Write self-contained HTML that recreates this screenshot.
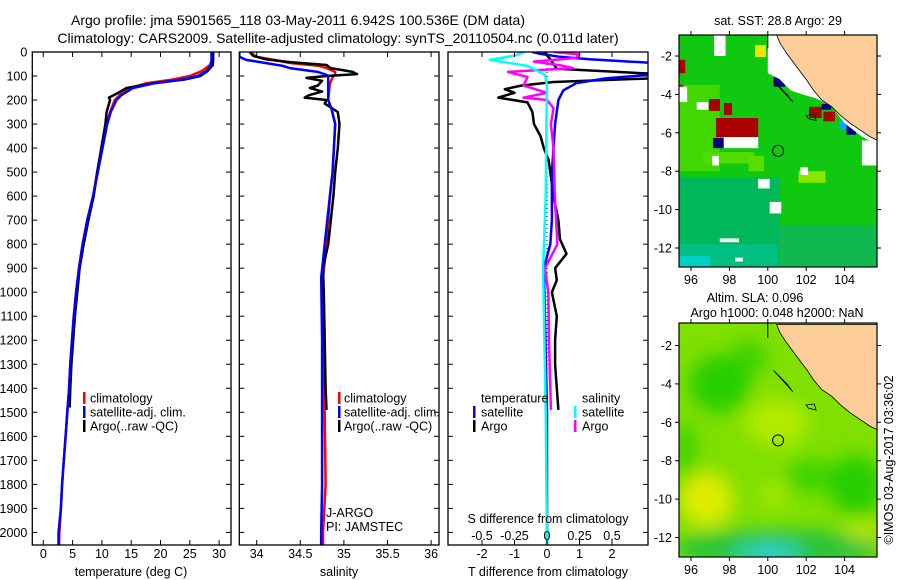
<!DOCTYPE html>
<html><head><meta charset="utf-8"><style>
body{margin:0;background:#fff}
svg{display:block;font-family:"Liberation Sans",sans-serif}
</style></head><body>
<svg id="fig" width="900" height="580" viewBox="0 0 900 580" xmlns="http://www.w3.org/2000/svg">
<defs><filter id="blur" x="-20%" y="-20%" width="140%" height="140%"><feGaussianBlur stdDeviation="9"/></filter></defs>
<text x="298" y="25" font-size="14" text-anchor="middle">Argo profile: jma 5901565_118 03-May-2011 6.942S 100.536E (DM data)</text>
<text x="338" y="43" font-size="14" text-anchor="middle">Climatology: CARS2009. Satellite-adjusted climatology: synTS_20110504.nc (0.011d later)</text>
<g id="g"></g>
</svg>
<script>
// ---- profile data (depth in m) ----
const tDepth = [0,30,55,80,100,115,130,150,180,200,250,300,400,500,600,700,800,900,1000,1100,1200,1300,1400,1500,1600,1700,1800,1900,2000,2054];
const tClim  = [28.9,28.9,28.4,27,25,22,17.6,15.0,13,12.2,11.4,10.8,10,9.2,8.5,7.5,6.7,6.1,5.6,5.2,4.9,4.6,4.4,4.1,3.8,3.5,3.2,3.0,2.75,2.7];
const tSat   = [28.7,28.7,28.6,27.8,26.4,23.5,19,15.3,13.3,12.5,11.5,10.9,10.1,9.3,8.5,7.5,6.7,6.1,5.6,5.2,4.9,4.6,4.4,4.1,3.8,3.5,3.2,3.0,2.6,2.6];
const aDepth = [0,30,55,80,100,115,130,150,170,180,190,200,250,300,400,500,600,700,800,900,1000,1100,1200,1300,1400,1480];
const tArgo  = [29.0,29.0,28.9,28.0,26.8,24,18.8,14.2,12.8,12,11.2,11.4,10.8,10.6,9.9,9.2,8.6,7.7,6.9,6.2,5.8,5.4,5.1,4.8,4.6,4.5];
const sDepth = [0,20,33,46,58,67,83,95,100,130,200,240,300,500,600,800,940,1200,1500,1800,2000,2054];
const sClim  = [33.92,34.0,34.2,34.38,34.72,34.8,34.9,34.9,34.88,34.84,34.82,34.86,34.9,34.87,34.84,34.8,34.76,34.77,34.78,34.79,34.76,34.76];
const sSat   = [33.8,33.8,33.88,34.1,34.3,34.38,34.7,34.8,34.82,34.82,34.82,34.86,34.9,34.87,34.84,34.78,34.74,34.75,34.75,34.75,34.74,34.74];
const asDepth= [0,16,30,42,54,67,83,92,100,108,120,140,150,165,180,190,200,215,250,300,400,500,600,800,900,1000,1200,1400,1490];
const sArgo  = [33.92,33.96,34.1,34.38,34.8,34.85,35.1,35.15,34.8,34.57,34.75,34.7,34.61,34.75,34.6,34.55,34.8,34.78,34.93,34.95,34.93,34.9,34.88,34.82,34.76,34.77,34.78,34.79,34.8];
const dtDepth= [0,8,20,30,45,60,80,95,110,130,160,200,300,500,700,800,900,1000,1200,1500,2054];
const dtSat  = [-0.45,-0.2,0.4,1.3,3.3,3.3,3.3,3.3,1.8,0.9,0.5,0.35,0.25,0.15,0.15,0.1,-0.1,-0.08,-0.05,0,0];
const dtaDepth=[0,30,70,90,95,110,125,140,155,170,190,210,250,300,350,400,450,500,600,700,780,840,900,950,1000,1100,1200,1300,1400,1490];
const dtArgo = [-0.1,0.1,0.3,3.3,3.3,3.3,0.2,-0.8,-1.3,-1.0,-1.5,-0.6,-0.45,-0.4,-0.2,-0.1,0.05,0.1,0.2,0.35,0.4,0.6,0.25,0.3,0.15,0.3,0.25,0.25,0.3,0.35];
const dsDepth= [0,15,33,58,95,140,300,600,900,1200,1500,2054];
const dsSat  = [-0.17,-0.25,-0.44,-0.15,-0.015,0,-0.005,-0.01,-0.03,-0.02,-0.01,0];
const dsaDepth=[0,10,25,40,55,67,83,104,140,170,190,200,233,300,400,600,800,900,1000,1200,1400,1490];
const dsArgo = [0.05,0.25,0.22,-0.1,0.1,0.2,-0.3,-0.15,-0.18,0,-0.18,0,0.05,0.03,0.05,0.06,0.08,-0.015,0.01,0.015,0.025,0.03];
const depthTicks = [0,100,200,300,400,500,600,700,800,900,1000,1100,1200,1300,1400,1500,1600,1700,1800,1900,2000];
const tTicks = [0,5,10,15,20,25,30];
const sTicks = [34,34.5,35,35.5,36];
const dtTicks = [-2,-1,0,1,2];
const dsTicks = [-0.5,-0.25,0,0.25,0.5];
// ---- map data ----
const coastLon = [100.46,100.64,100.98,101.5,102.02,102.37,102.8,103.33,103.76,104.28,104.8,105.32,105.69,105.69];
const coastLat = [-0.906,-1.34,-1.86,-2.56,-3.25,-3.77,-4.29,-4.64,-5.07,-5.5,-5.85,-6.2,-6.38,-0.906];
const mapLonTicks = [96,98,100,102,104];
const mapLatTicks = [-2,-4,-6,-8,-10,-12];
// SST patches: [lon0, lon1, latTop, latBottom, colour]
const sstPatches = [
 [95.37,105.7,-0.9,-13,'#10c810'],
 [95.37,100.6,-8.3,-13,'#00b85a'],
 [100.6,105.7,-10.8,-13,'#10b850'],
 [95.37,100.5,-11.8,-13,'#00bf80'],
 [95.37,97,-12.4,-13,'#00d0c0'],
 [95.37,97.5,-3.5,-8,'#40d800'],
 [96.6,99.3,-7.0,-7.6,'#50dc00'],
 [101.6,103,-8.0,-8.6,'#88e800'],
 [99.0,99.8,-7.2,-8.0,'#5ade00'],
 [97.2,97.8,-0.9,-2.0,'#ffffff'],
 [99.33,99.9,-1.43,-2.05,'#e8e800'],
 [95.37,95.7,-2.2,-2.9,'#aa0000'],
 [95.37,95.6,-3.5,-4.2,'#aa0000'],
 [95.4,95.8,-3.6,-4.4,'#ffffff'],
 [96.3,96.9,-4.4,-4.8,'#ffffff'],
 [96.94,97.51,-4.24,-4.86,'#aa0000'],
 [97.72,98.14,-4.45,-5.07,'#aa0000'],
 [97.3,99.5,-5.23,-6.22,'#aa0000'],
 [97.7,99.5,-6.22,-6.8,'#ffffff'],
 [97.15,97.7,-6.27,-6.8,'#000080'],
 [97.1,97.45,-7.2,-7.7,'#ffffff'],
 [99.5,100.1,-8.4,-8.9,'#ffffff'],
 [100.1,100.7,-9.6,-10.2,'#ffffff'],
 [102.15,102.8,-4.65,-5.23,'#aa0000'],
 [102.9,103.5,-4.9,-5.4,'#aa0000'],
 [102.8,103.3,-4.5,-4.8,'#000080'],
 [100.3,100.9,-3.1,-3.6,'#000080'],
 [104.1,104.6,-5.5,-6.1,'#000080'],
 [103.7,104.1,-5.4,-5.8,'#00aaff'],
 [101.7,102.1,-7.8,-8.2,'#ffffff'],
 [97.5,98.5,-11.5,-11.7,'#ffffff'],
 [98.3,98.7,-12.5,-12.7,'#ffffff'],
 [104.9,105.7,-6.4,-7.7,'#ffffff']
];
// no-data strip along the coast
const gapLon = [100.0,100.46,100.64,100.98,101.5,102.02,102.37,102.8,103.33,103.76,104.28,104.8,105.32,105.69,105.69,104.9,104.0,103.3,102.5,101.8,101.2,100.6,100.0];
const gapLat = [-0.906,-0.906,-1.34,-1.86,-2.56,-3.25,-3.77,-4.29,-4.64,-5.07,-5.5,-5.85,-6.2,-6.38,-6.6,-6.2,-5.5,-4.6,-4.2,-4.0,-3.8,-3.2,-2.9];
// SLA blobs: [lon, lat, rx(deg), ry(deg), colour, opacity]
const slaBlobs = [
 [97.5,-4.0,1.6,1.5,'#20cc00',0.9],
 [99.0,-2.6,1.0,0.9,'#30d000',0.8],
 [95.7,-7.5,0.6,1.6,'#30d000',0.8],
 [102.3,-8.8,1.3,0.9,'#30d000',0.8],
 [104.6,-9.3,1.4,1.6,'#20cc00',0.9],
 [100.5,-6.0,1.6,1.2,'#c8f000',0.7],
 [96.8,-10.0,1.4,1.4,'#e8ee00',0.9],
 [100.3,-9.8,0.6,0.6,'#c8f000',0.6],
 [104.8,-12.0,1.0,0.7,'#d8f000',0.8],
 [100.5,-12.6,5.5,1.0,'#20c040',0.9],
 [100.0,-12.8,1.9,0.7,'#30d0b0',0.95],
 [100.2,-12.9,0.9,0.35,'#30c8e0',0.95]
];

const NS='http://www.w3.org/2000/svg';
const G=document.getElementById('g');
function el(tag,attrs,parent){const e=document.createElementNS(NS,tag);for(const k in attrs)e.setAttribute(k,attrs[k]);(parent||G).appendChild(e);return e;}
const Y0=52,Y1=545;
const yDepth=d=>Y0+d*0.2402;
const xT=v=>43.3+v*5.86;
const xS=v=>256.7+(v-34)*87.2;
const xDT=v=>547+v*32.5;
const xDS=v=>547+v*130;

function line(xs,ds,xf,color,name,parent,x0,x1){
  let p='';
  for(let i=0;i<xs.length;i++){let x=Math.max(x0,Math.min(x1,xf(xs[i])));p+=(i?'L':'M')+x.toFixed(1)+','+yDepth(ds[i]).toFixed(1);}
  const e=el('path',{d:p,fill:'none',stroke:color,'stroke-width':2.5,'stroke-linejoin':'round'},parent);
  
  
}
function panel(x0,x1,name){
  const g=el('g',{});
  
  
  const cp=el('clipPath',{id:'c'+name},g);el('rect',{x:x0,y:Y0,width:x1-x0,height:Y1-Y0},cp);
  const inner=el('g',{'clip-path':'url(#c'+name+')'},g);
  return {g,inner};
}
function frame(g,x0,x1){el('rect',{x:x0,y:Y0,width:x1-x0,height:Y1-Y0,fill:'none',stroke:'#000','stroke-width':1.3},g);}
function depthTickMarks(g,x0,x1,labels){
  depthTicks.forEach(d=>{const y=yDepth(d);
    el('line',{x1:x0,y1:y,x2:x0+5,y2:y,stroke:'#000'},g);el('line',{x1:x1-5,y1:y,x2:x1,y2:y,stroke:'#000'},g);
    if(labels){const t=el('text',{x:x0-5,y:y+4.5,'font-size':12.5,'text-anchor':'end'},g);t.textContent=d;
      
      }
  });
}
function xTicks(g,ticks,xf,lblY,fmt){
  ticks.forEach(v=>{const x=xf(v);
    el('line',{x1:x,y1:Y0,x2:x,y2:Y0+5,stroke:'#000'},g);el('line',{x1:x,y1:Y1-5,x2:x,y2:Y1,stroke:'#000'},g);
    const t=el('text',{x:x,y:lblY,'font-size':12.5,'text-anchor':'middle'},g);t.textContent=fmt?fmt(v):v;
    
    
  });
}
function txt(g,x,y,s,size,name,anchor){const t=el('text',{x:x,y:y,'font-size':size||12.5,'text-anchor':anchor||'start'},g);t.textContent=s;
  
  
  return t;}
function legBar(g,x,y,c){el('rect',{x:x,y:y-6,width:2.5,height:12,fill:c},g);}

// Panel 1 temperature
let P=panel(32.3,231,'temperature-panel');
line(tClim,tDepth,xT,'#ff0000','temp-climatology-line',P.inner,30,233);
line(tArgo,aDepth,xT,'#000000','temp-argo-line',P.inner,30,233);
line(tSat,tDepth,xT,'#0000ff','temp-satellite-line',P.inner,30,233);
frame(P.g,32.3,231);depthTickMarks(P.g,32.3,231,true);xTicks(P.g,tTicks,xT,558);
txt(P.g,131,576,'temperature (deg C)',12.5,'temperature-axis-title','middle');
[['#ff0000','climatology'],['#0000ff','satellite-adj. clim.'],['#000','Argo(..raw -QC)']].forEach((l,i)=>{legBar(P.g,83,398+i*14,l[0]);txt(P.g,90,402.5+i*14,l[1],12.5,'legend-entry');});

// Panel 2 salinity
P=panel(239.3,439,'salinity-panel');
line(sClim,sDepth,xS,'#ff0000','sal-climatology-line',P.inner,237,441);
line(sArgo,asDepth,xS,'#000000','sal-argo-line',P.inner,237,441);
line(sSat,sDepth,xS,'#0000ff','sal-satellite-line',P.inner,237,441);
frame(P.g,239.3,439);depthTickMarks(P.g,239.3,439,false);xTicks(P.g,sTicks,xS,558);
txt(P.g,339,576,'salinity',12.5,'salinity-axis-title','middle');
[['#ff0000','climatology'],['#0000ff','satellite-adj. clim.'],['#000','Argo(..raw -QC)']].forEach((l,i)=>{legBar(P.g,338,398+i*14,l[0]);txt(P.g,344,402.5+i*14,l[1],12.5,'legend-entry');});
txt(P.g,326,517,'J-ARGO',12.5,'float-program-label');
txt(P.g,326,531,'PI: JAMSTEC',12.5,'float-pi-label');

// Panel 3 differences
P=panel(448,648,'difference-panel');
el('line',{x1:547,y1:Y0,x2:547,y2:Y1,stroke:'#000','stroke-dasharray':'1,3'},P.inner);
line(dtArgo,dtaDepth,xDT,'#000000','tdiff-argo-line',P.inner,446,650);
line(dtSat,dtDepth,xDT,'#0000ff','tdiff-satellite-line',P.inner,446,650);
line(dsArgo,dsaDepth,xDS,'#ff00ff','sdiff-argo-line',P.inner,446,650);
line(dsSat,dsDepth,xDS,'#00ffff','sdiff-satellite-line',P.inner,446,650);
frame(P.g,448,648);depthTickMarks(P.g,448,648,false);
dtTicks.forEach(v=>{const x=xDT(v);el('line',{x1:x,y1:Y0,x2:x,y2:Y0+5,stroke:'#000'},P.g);
  txt(P.g,x,558,v,12.5,'tdiff-tick-label','middle');});
dsTicks.forEach(v=>{const x=xDS(v);el('line',{x1:x,y1:Y1-5,x2:x,y2:Y1,stroke:'#000'},P.g);
  txt(P.g,x,540,v,12.5,'sdiff-tick-label','middle');});
txt(P.g,548,523,'S difference from climatology',12.5,'sdiff-axis-title','middle');
txt(P.g,548,576,'T difference from climatology',12.5,'tdiff-axis-title','middle');
txt(P.g,481,402.5,'temperature',12.5,'legend-heading-temperature');
txt(P.g,582,402.5,'salinity',12.5,'legend-heading-salinity');
legBar(P.g,473,412,'#0000ff');txt(P.g,481,416.5,'satellite',12.5,'legend-entry');
legBar(P.g,473,426,'#000');txt(P.g,481,430.5,'Argo',12.5,'legend-entry');
legBar(P.g,574,412,'#00ffff');txt(P.g,582,416.5,'satellite',12.5,'legend-entry');
legBar(P.g,574,426,'#ff00ff');txt(P.g,582,430.5,'Argo',12.5,'legend-entry');

// Maps
function makeMap(top,bottom,lat2y,name,fill){
  const x0=679,x1=877;
  const lx=lon=>691+(lon-96)*19.2;
  const ly=lat=>lat2y+(-2-lat)*19.2;
  const g=el('g',{});
  
  
  const cp=el('clipPath',{id:'c'+name},g);el('rect',{x:x0,y:top,width:x1-x0,height:bottom-top},cp);
  const inner=el('g',{'clip-path':'url(#c'+name+')'},g);
  fill(inner,lx,ly);
  const poly=(lons,lats,f,nm)=>{const e=el('polygon',{points:lons.map((l,i)=>lx(l).toFixed(1)+','+ly(lats[i]).toFixed(1)).join(' '),fill:f,stroke:'#000','stroke-width':0.8},inner);
    
    };
  poly(coastLon,coastLat,'#fccc99','sumatra-land');
  el('path',{d:`M${lx(100.3)},${ly(-3.3)} L${lx(101.3)},${ly(-4.4)} L${lx(101.0)},${ly(-4.0)}Z M${lx(102.0)},${ly(-5.1)} l8,-1 l2,6 l-8,-2Z`,fill:'none',stroke:'#000','stroke-width':0.8},inner);
  el('line',{x1:lx(100),y1:top,x2:lx(100),y2:ly(-1.6),stroke:'#000','stroke-width':1},inner);
  const c=el('circle',{cx:lx(100.536),cy:ly(-6.942),r:5.5,fill:'none',stroke:'#000','stroke-width':1},inner);
  
  
  el('rect',{x:x0,y:top,width:x1-x0,height:bottom-top,fill:'none',stroke:'#000','stroke-width':1.2},g);
  mapLonTicks.forEach(v=>{const x=lx(v);el('line',{x1:x,y1:top-4,x2:x,y2:top,stroke:'#000'},g);el('line',{x1:x,y1:bottom,x2:x,y2:bottom+4,stroke:'#000'},g);
    txt(g,x,bottom+17,v,12.5,'map-lon-label','middle');});
  mapLatTicks.forEach(v=>{const y=ly(v);el('line',{x1:x0-4,y1:y,x2:x0,y2:y,stroke:'#000'},g);el('line',{x1:x1,y1:y,x2:x1+4,y2:y,stroke:'#000'},g);
    txt(g,x0-7,y+4.5,v,12.5,'map-lat-label','end');});
  return g;
}
makeMap(35,267,56,'sst-map',(g,lx,ly)=>{
  sstPatches.forEach(p=>{el('rect',{x:lx(p[0]),y:ly(p[2]),width:lx(p[1])-lx(p[0]),height:ly(p[3])-ly(p[2]),fill:p[4]},g);});
  el('polygon',{points:gapLon.map((l,i)=>lx(l)+','+ly(gapLat[i])).join(' '),fill:'#fff'},g);
});
makeMap(323,557,345.5,'sla-map',(g,lx,ly)=>{
  el('rect',{x:679,y:323,width:198,height:234,fill:'#80e000'},g);
  const bg=el('g',{filter:'url(#blur)'},g);
  slaBlobs.forEach(b=>{el('ellipse',{cx:lx(b[0]),cy:ly(b[1]),rx:b[2]*19.2,ry:b[3]*19.2,fill:b[4],opacity:b[5]},bg);});
});
txt(G,778,25,'sat. SST: 28.8 Argo: 29',12.5,'sst-map-title','middle');
txt(G,755,302,'Altim. SLA: 0.096',12.5,'sla-map-title','middle');
txt(G,777,317,'Argo h1000: 0.048 h2000: NaN',12.5,'sla-map-subtitle','middle');
const ts=txt(G,0,0,'©IMOS 03-Aug-2017 03:36:02',12.5,'timestamp','middle');
ts.setAttribute('transform','translate(893,460) rotate(-90)');
</script>
</body></html>
